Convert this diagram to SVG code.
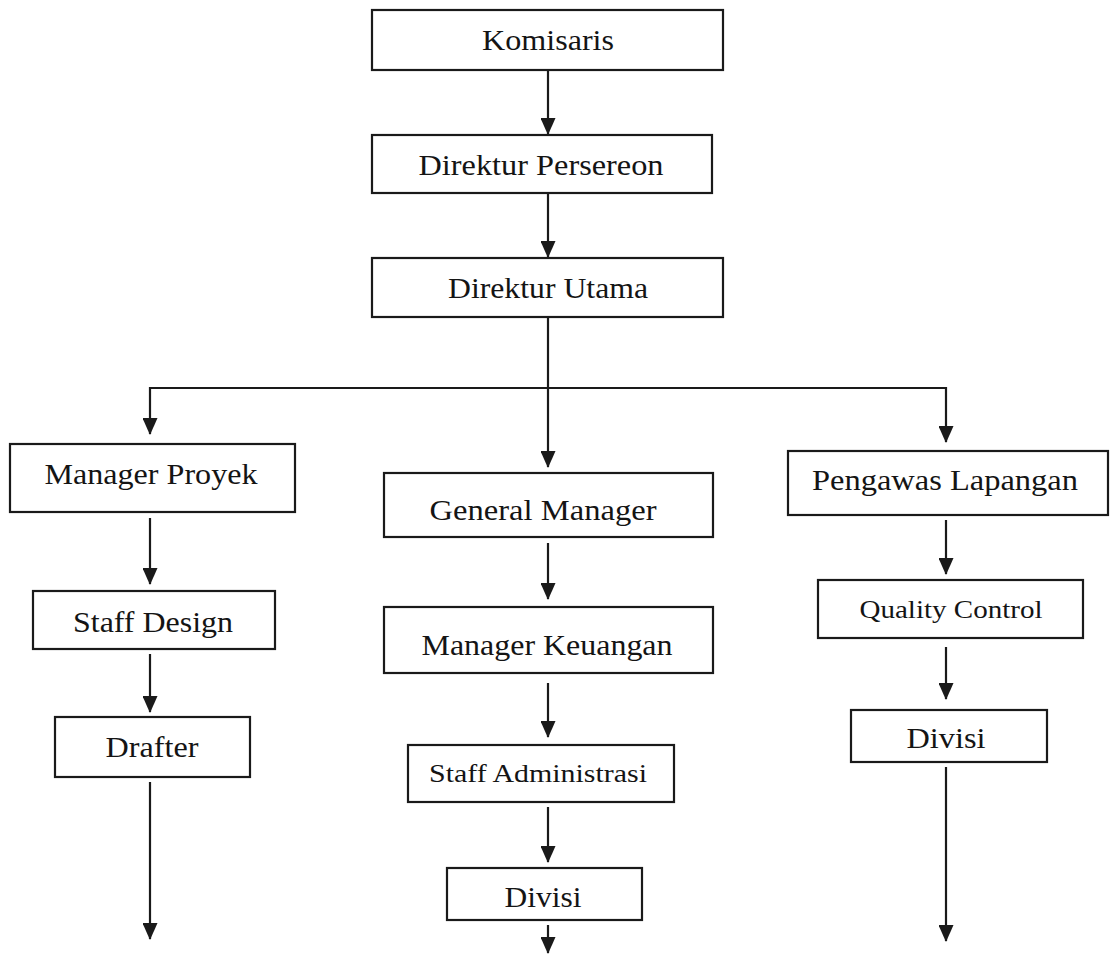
<svg xmlns="http://www.w3.org/2000/svg" width="1111" height="954" viewBox="0 0 1111 954">
<style>
.box{fill:#fff;stroke:#1a1a1a;stroke-width:2.2}
.t{font-family:"Liberation Serif","Times New Roman",Times,serif;font-size:28.5px;fill:#141414;text-anchor:middle}
.s{font-size:26px}
.c{fill:none;stroke:#1a1a1a;stroke-width:2.2}
</style>
<defs>
<marker id="arr" markerUnits="userSpaceOnUse" markerWidth="17" markerHeight="15" viewBox="0 0 17 15" refX="16" refY="7.5" orient="auto">
<path d="M0,0 L17,7.5 L0,15 z" fill="#1a1a1a"/>
</marker>
</defs>
<rect width="1111" height="954" fill="#fff"/>
<g id="connectors">
<path class="c" d="M548,70 V134" marker-end="url(#arr)"/>
<path class="c" d="M548,193 V257" marker-end="url(#arr)"/>
<path class="c" d="M548,317 V467" marker-end="url(#arr)"/>
<path class="c" d="M548,388 H150 V434" marker-end="url(#arr)"/>
<path class="c" d="M548,388 H946 V442" marker-end="url(#arr)"/>
<path class="c" d="M150,518 V584" marker-end="url(#arr)"/>
<path class="c" d="M150,654 V712" marker-end="url(#arr)"/>
<path class="c" d="M150,782 V939" marker-end="url(#arr)"/>
<path class="c" d="M548,543 V599" marker-end="url(#arr)"/>
<path class="c" d="M548,683 V737" marker-end="url(#arr)"/>
<path class="c" d="M548,807 V862" marker-end="url(#arr)"/>
<path class="c" d="M548,925 V953" marker-end="url(#arr)"/>
<path class="c" d="M946,520 V574" marker-end="url(#arr)"/>
<path class="c" d="M946,647 V699" marker-end="url(#arr)"/>
<path class="c" d="M946,767 V941" marker-end="url(#arr)"/>
</g>
<g id="komisaris"><rect class="box" x="372" y="10" width="351" height="60"/><text class="t" x="548" y="50" textLength="132" lengthAdjust="spacingAndGlyphs">Komisaris</text></g>
<g id="direktur-persereon"><rect class="box" x="372" y="135" width="340" height="58"/><text class="t" x="541" y="175" textLength="245" lengthAdjust="spacingAndGlyphs">Direktur Persereon</text></g>
<g id="direktur-utama"><rect class="box" x="372" y="258" width="351" height="59"/><text class="t" x="548" y="298" textLength="200" lengthAdjust="spacingAndGlyphs">Direktur Utama</text></g>
<g id="manager-proyek"><rect class="box" x="10" y="444" width="285" height="68"/><text class="t" x="151" y="484" textLength="213" lengthAdjust="spacingAndGlyphs">Manager Proyek</text></g>
<g id="staff-design"><rect class="box" x="33" y="591" width="242" height="58"/><text class="t" x="153" y="632" textLength="160" lengthAdjust="spacingAndGlyphs">Staff Design</text></g>
<g id="drafter"><rect class="box" x="55" y="717" width="195" height="60"/><text class="t" x="152" y="757" textLength="93" lengthAdjust="spacingAndGlyphs">Drafter</text></g>
<g id="general-manager"><rect class="box" x="384" y="473" width="329" height="64"/><text class="t" x="543" y="520" textLength="227" lengthAdjust="spacingAndGlyphs">General Manager</text></g>
<g id="manager-keuangan"><rect class="box" x="384" y="607" width="329" height="66"/><text class="t" x="547" y="655" textLength="251" lengthAdjust="spacingAndGlyphs">Manager Keuangan</text></g>
<g id="staff-administrasi"><rect class="box" x="408" y="745" width="266" height="57"/><text class="t s" x="538" y="782" textLength="218" lengthAdjust="spacingAndGlyphs">Staff Administrasi</text></g>
<g id="divisi-tengah"><rect class="box" x="447" y="868" width="195" height="52"/><text class="t" x="543" y="907" textLength="77" lengthAdjust="spacingAndGlyphs">Divisi</text></g>
<g id="pengawas-lapangan"><rect class="box" x="788" y="451" width="320" height="64"/><text class="t" x="945" y="490" textLength="266" lengthAdjust="spacingAndGlyphs">Pengawas Lapangan</text></g>
<g id="quality-control"><rect class="box" x="818" y="580" width="265" height="58"/><text class="t s" x="951" y="618" textLength="183" lengthAdjust="spacingAndGlyphs">Quality Control</text></g>
<g id="divisi-kanan"><rect class="box" x="851" y="710" width="196" height="52"/><text class="t" x="946" y="748" textLength="79" lengthAdjust="spacingAndGlyphs">Divisi</text></g>
</svg>
